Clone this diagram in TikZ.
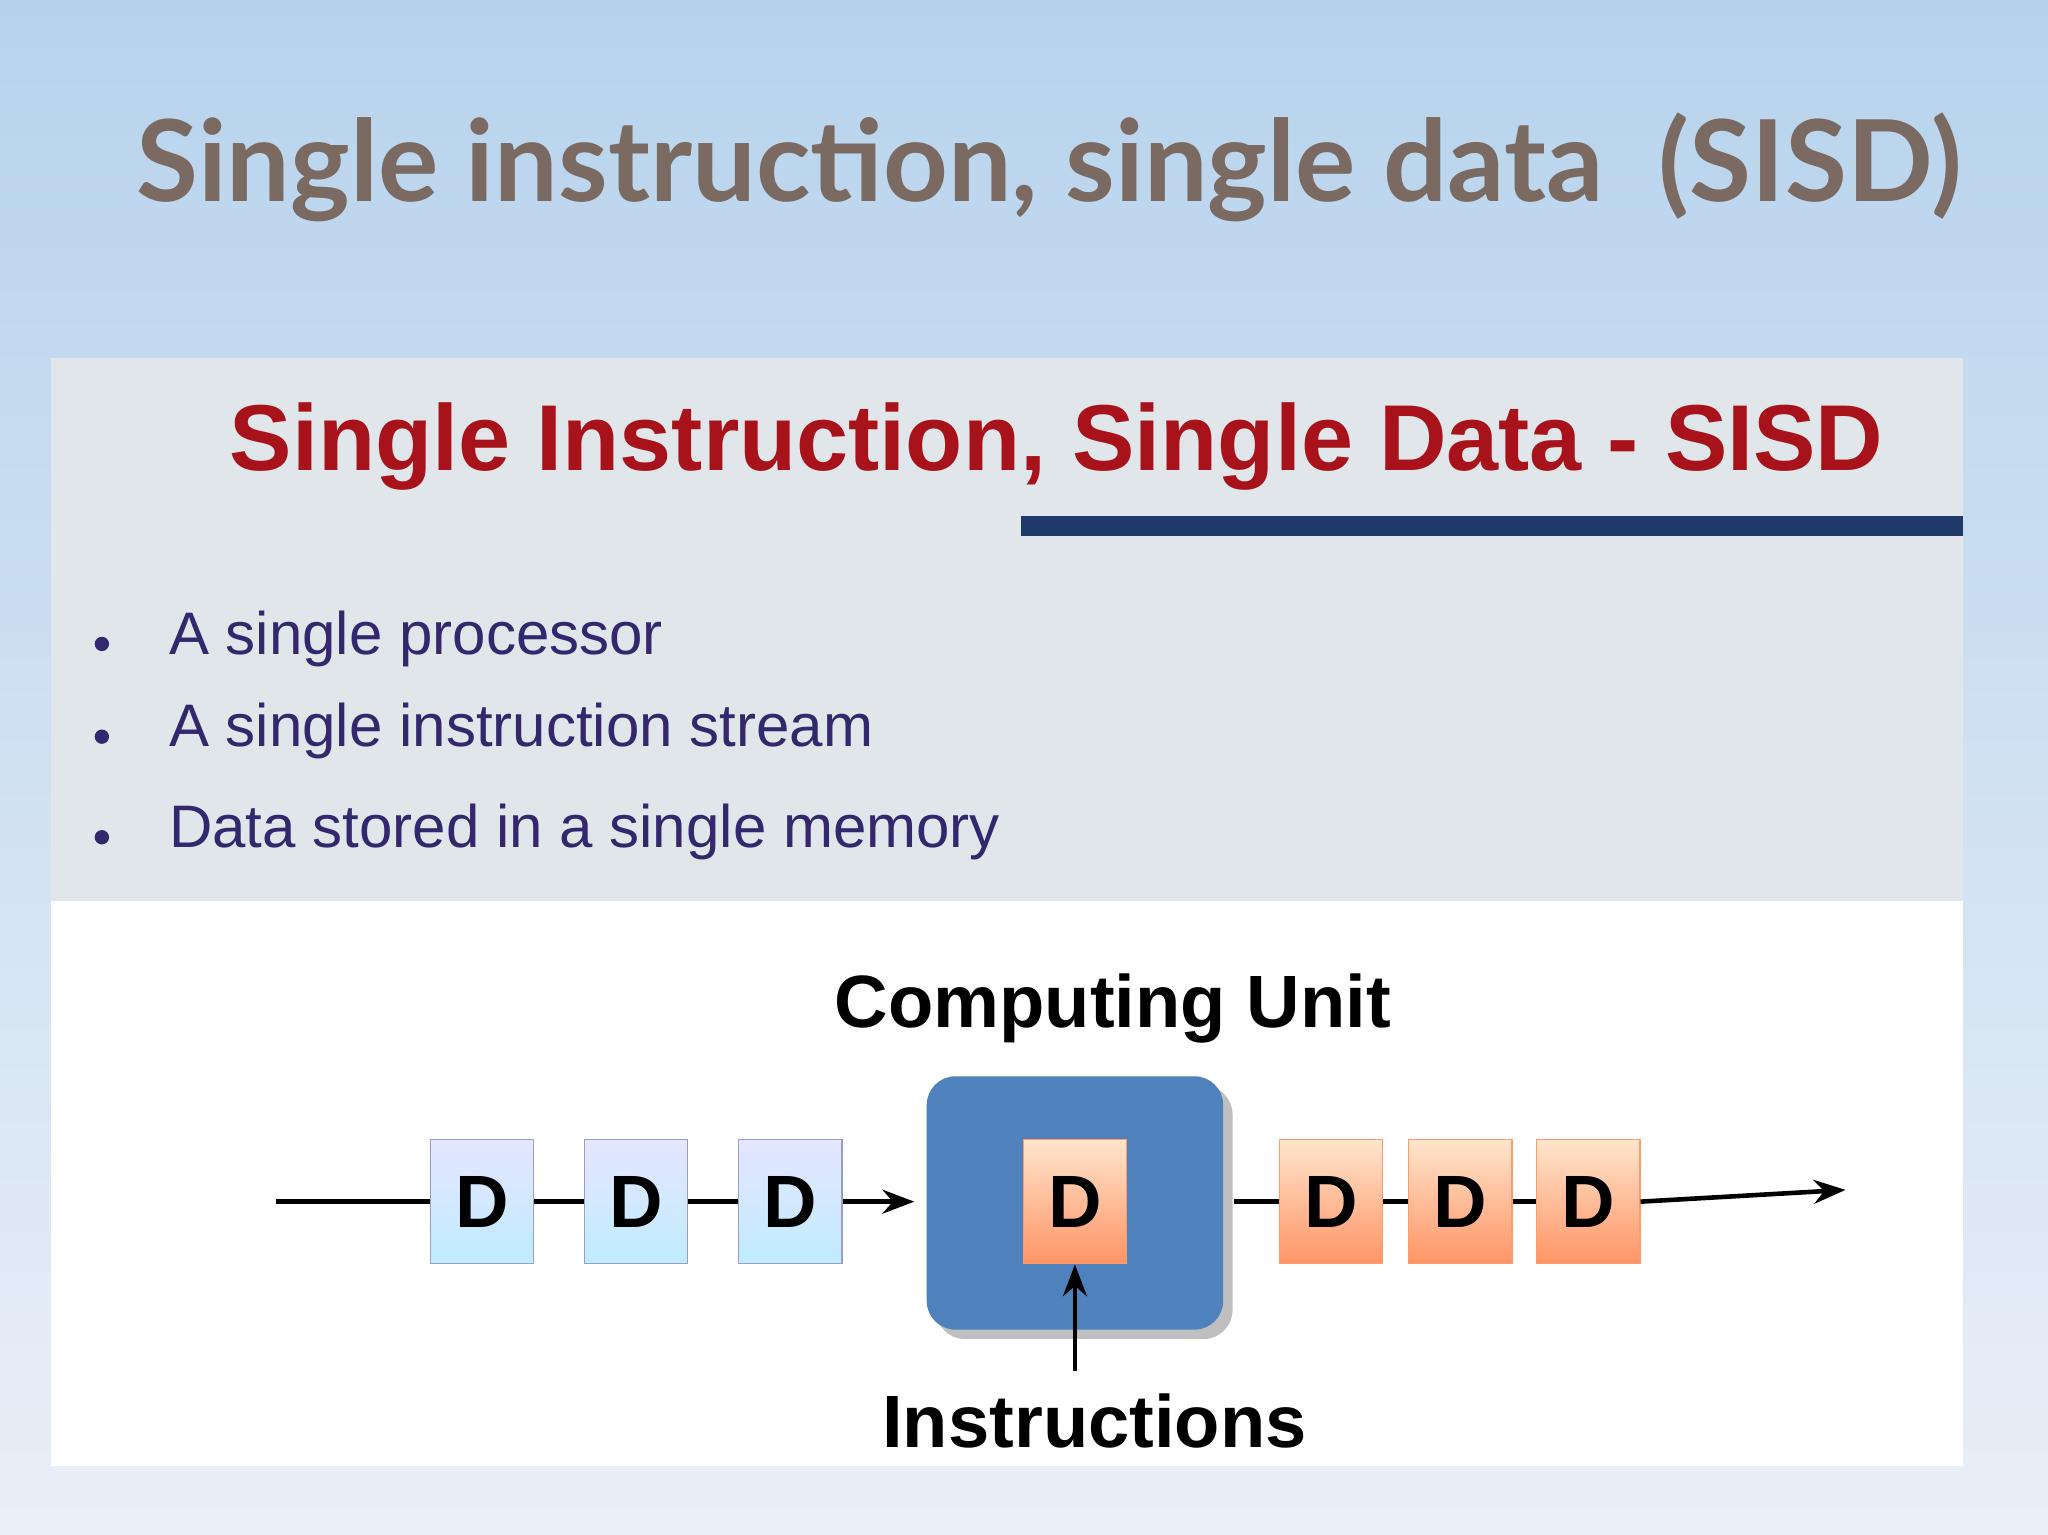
\documentclass[tikz,border=0pt]{standalone}
\usepackage{fontspec}
\setmainfont{Liberation Sans}
\newfontfamily\titlefont{Lato}
\usetikzlibrary{arrows.meta,shadows}
\definecolor{bgtop}{HTML}{B7D3EC}
\definecolor{bgbot}{HTML}{E9EFF8}
\definecolor{titlec}{HTML}{7A6A62}
\definecolor{panel}{HTML}{E1E6EA}
\definecolor{redt}{HTML}{A8121A}
\definecolor{barc}{HTML}{1F3A6A}
\definecolor{bulc}{HTML}{33286E}
\definecolor{cub}{HTML}{4F81BD}
\tikzset{
 dbox/.style={minimum width=79*0.013cm,minimum height=95*0.013cm,inner sep=0pt,font=\bfseries\fontsize{21}{21}\selectfont},
 bluebox/.style={dbox,draw=blue!30!gray!60,top color=blue!10,bottom color=blue!30!cyan!25},
 orbox/.style={dbox,draw=orange!70!red!60,top color=orange!20,bottom color=orange!60!red!60},
 bul/.style={anchor=west,text=bulc,font=\fontsize{17}{17}\selectfont},
 ln/.style={line width=1.3pt,black}
}
\begin{document}
\begin{tikzpicture}[x=0.013cm,y=-0.013cm]
\useasboundingbox (0,0) rectangle (1568,1175);
\shade[top color=bgtop,bottom color=bgbot] (0,0) rectangle (1568,1175);
\node[text=titlec,font=\titlefont\bfseries\fontsize{32}{32}\selectfont] (t) at (803,128) {Single instruction, single data\ \ (SISD)};
\fill[panel] (39,274) rectangle (1503,690);
\fill[white] (39,690) rectangle (1503,1122);
\node[text=redt,font=\bfseries\fontsize{26.5}{26.5}\selectfont] (rt) at (809,342) {Single Instruction, Single Data - SISD};
\fill[barc] (782,395) rectangle (1503,410);
\foreach \y/\t in {489/A single processor,560/A single instruction stream,637/Data stored in a single memory}{
  \fill[bulc] (78,\y+4) circle (5.5);
  \node[bul] at (120,\y) {\t};
}
\node[font=\bfseries\fontsize{21}{21}\selectfont] (cu) at (852,772) {Computing Unit};
\node[fill=cub,rounded corners=22*0.013cm,minimum width=227*0.013cm,minimum height=194*0.013cm,drop shadow] (box) at (823,921) {};
\node[bluebox] (b1) at (369,920) {D};
\node[bluebox] (b2) at (487,920) {D};
\node[bluebox] (b3) at (605,920) {D};
\node[orbox] (o0) at (823,920) {D};
\node[orbox] (o1) at (1019,920) {D};
\node[orbox] (o2) at (1118,920) {D};
\node[orbox] (o3) at (1216,920) {D};
\coordinate (s) at (211,920);
\coordinate (a) at (700,920);
\coordinate (c) at (945,920);
\coordinate (e) at (1413,911);
\coordinate (i) at (823,1050);
\draw[ln] (s) -- (b1); \draw[ln] (b1) -- (b2); \draw[ln] (b2) -- (b3);
\draw[ln,-{Stealth[length=9pt]}] (b3) -- (a);
\draw[ln] (c) -- (o1); \draw[ln] (o1) -- (o2); \draw[ln] (o2) -- (o3);
\draw[ln,-{Stealth[length=9pt]}] (o3.east) -- (e);
\draw[ln,-{Stealth[length=9pt]}] (i) -- (o0.south);
\node[font=\bfseries\fontsize{21}{21}\selectfont] (ins) at (838,1088) {Instructions};
\end{tikzpicture}
\end{document}
